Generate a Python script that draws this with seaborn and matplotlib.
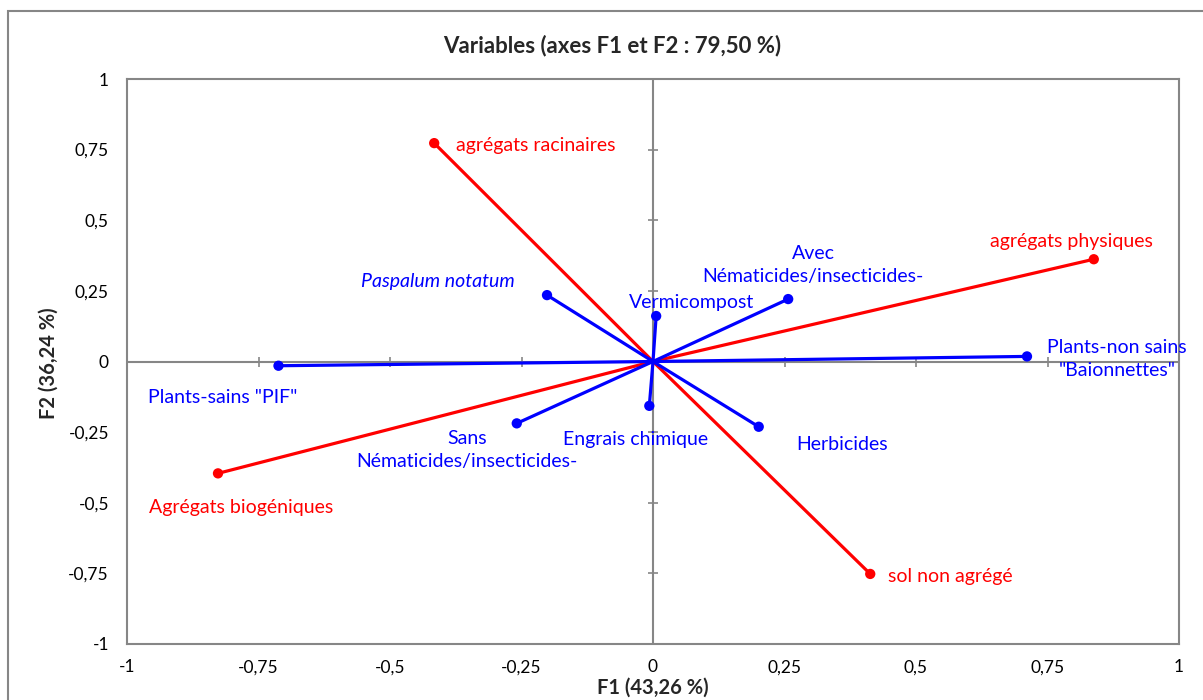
import pandas as pd
import numpy as np
import seaborn as sns
from matplotlib import pyplot as plt
from matplotlib.patches import Rectangle

# coordonnees des variables sur F1 et F2
noms_rouges = ["agrégats racinaires", "agrégats physiques",
               "Agrégats biogéniques", "sol non agrégé"]
f1_rouges = [-0.416, 0.838, -0.827, 0.413]
f2_rouges = [0.773, 0.362, -0.396, -0.752]

noms_bleus = ['Plants-sains "PIF"', "Paspalum notatum", "Vermicompost",
              "Avec\nNématicides/insecticides-", 'Plants-non sains\n"Baionnettes"',
              "Sans\nNématicides/insecticides-", "Engrais chimique", "Herbicides"]
f1_bleus = [-0.712, -0.2015, 0.006, 0.257, 0.711, -0.259, -0.007, 0.201]
f2_bleus = [-0.015, 0.235, 0.161, 0.221, 0.018, -0.219, -0.157, -0.231]

graduations = [-1, -0.75, -0.5, -0.25, 0, 0.25, 0.5, 0.75, 1]
etiquettes = ["-1", "-0,75", "-0,5", "-0,25", "0", "0,25", "0,5", "0,75", "1"]

titre = "Variables (axes F1 et F2 : 79,50 %)"
titre_x = "F1 (43,26 %)"
titre_y = "F2 (36,24 %)"

sns.set_theme(style="white")
plt.rcParams['font.family'] = ['Lato', 'DejaVu Sans']

df = pd.DataFrame({
    "nom": noms_rouges + noms_bleus,
    "F1": f1_rouges + f1_bleus,
    "F2": f2_rouges + f2_bleus,
    "groupe": ["rouge"] * len(noms_rouges) + ["bleu"] * len(noms_bleus),
})
couleurs = {"rouge": "#FF0000", "bleu": "#0000FF"}

# segments origine -> variable
origine = df.copy()
origine["F1"] = 0.0
origine["F2"] = 0.0
segments = pd.concat([origine, df], ignore_index=True)

gris = "#868686"
fig = plt.figure(figsize=(12.03, 7.0), dpi=100)
ax = fig.add_axes([127 / 1203, 1 - 644 / 700, 1052 / 1203, 565 / 700])

ax.axhline(0, color=gris, lw=1.5, zorder=1)
ax.axvline(0, color=gris, lw=1.5, zorder=1)
inner = [g for g in graduations if g not in (-1, 0, 1)]
ax.plot(inner, [0] * len(inner), ls="none", marker="|", ms=7, mew=1.2, color=gris, zorder=1)
ax.plot([0] * len(inner), inner, ls="none", marker="_", ms=7, mew=1.2, color=gris, zorder=1)

sns.lineplot(data=segments, x="F1", y="F2", hue="groupe", units="nom", estimator=None,
             sort=False, palette=couleurs, lw=2.3, legend=False, ax=ax, zorder=3)
sns.scatterplot(data=df, x="F1", y="F2", hue="groupe", palette=couleurs, s=55,
                edgecolor="none", legend=False, ax=ax, zorder=4)

# decalages des etiquettes (points)
decalages = {
    "agrégats racinaires": (16, -1.5, "left"),
    "agrégats physiques": (-16, 12.5, "center"),
    "Agrégats biogéniques": (-50, -24.5, "left"),
    "sol non agrégé": (13, -1.5, "left"),
    'Plants-sains "PIF"': (-94, -23, "left"),
    "Paspalum notatum": (-23.5, 10, "right"),
    "Vermicompost": (-19.5, 10, "left"),
    "Avec\nNématicides/insecticides-": (18, 24.5, "center"),
    'Plants-non sains\n"Baionnettes"': (65, -2, "center"),
    "Sans\nNématicides/insecticides-": (-36, -19, "center"),
    "Engrais chimique": (-62, -24, "left"),
    "Herbicides": (27, -13, "left"),
}
for _, r in df.iterrows():
    dx, dy, ha = decalages[r["nom"]]
    style = "italic" if r["nom"] == "Paspalum notatum" else "normal"
    ax.annotate(r["nom"], (r["F1"], r["F2"]), xytext=(dx, dy), textcoords="offset points",
                ha=ha, va="center", multialignment="center", fontsize=14,
                color=couleurs[r["groupe"]], style=style, linespacing=1.45, zorder=5)

ax.set_xlim(-1, 1)
ax.set_ylim(-1, 1)
ax.set_xticks(graduations, etiquettes)
ax.set_yticks(graduations, etiquettes)
ax.tick_params(length=0, labelsize=12.5, colors="black")
ax.tick_params(axis="x", pad=11)
ax.tick_params(axis="y", pad=13)
ax.set_xlabel("")
ax.set_ylabel("")
for s in ax.spines.values():
    s.set_color(gris)
    s.set_linewidth(1.5)

fig.text(653 / 1203, 1 - 688 / 700, titre_x, ha="center", va="center", fontsize=14.5, fontweight="bold")
fig.text(49 / 1203, 1 - 363 / 700, titre_y, ha="center", va="center", rotation=90,
         fontsize=14.5, fontweight="bold")
fig.text(612 / 1203, 1 - 46 / 700, titre, ha="center", va="center", fontsize=16, fontweight="bold")
fig.patches.append(Rectangle((8 / 1203, -0.1), 1.2, 1 - 11 / 700 + 0.1, transform=fig.transFigure,
                             fill=False, edgecolor=gris, lw=1.5))

fig.savefig("out.png", dpi=100)
